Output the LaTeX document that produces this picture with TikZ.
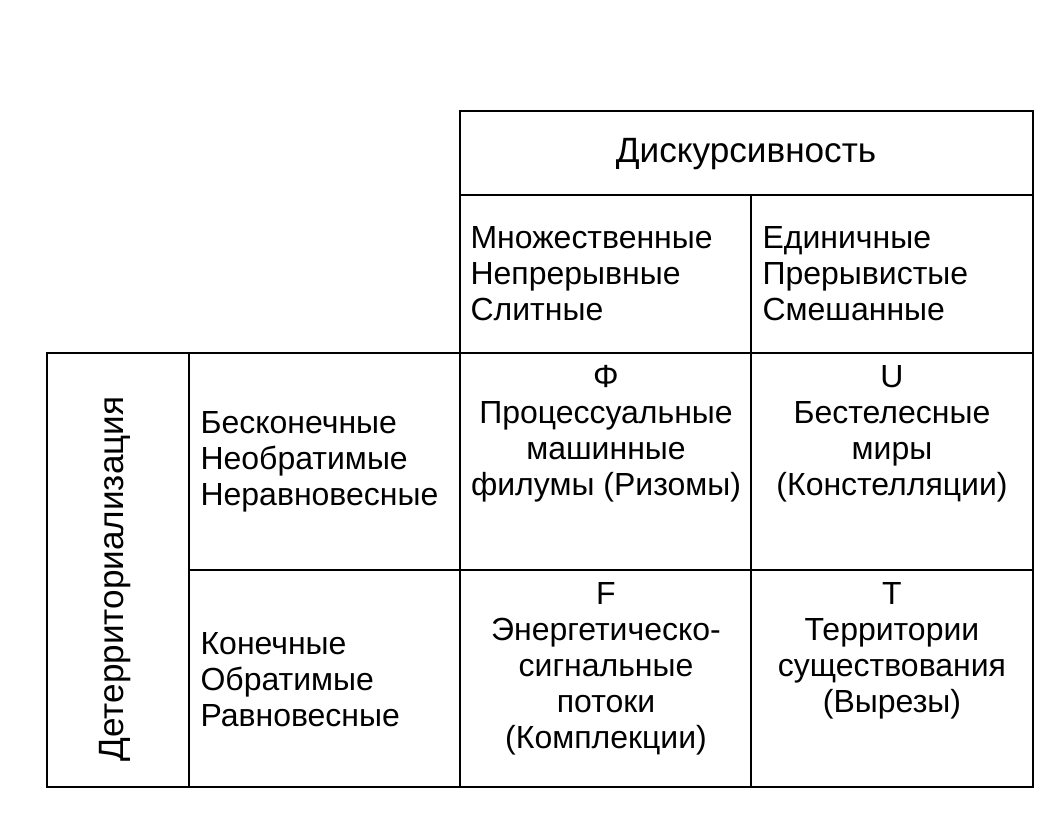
\documentclass[tikz,border=0pt]{standalone}
\usepackage{fontspec}
\setmainfont{Liberation Sans}
\tikzset{
  cell/.style={inner sep=0pt,font=\fontsize{27.3}{30.7}\selectfont},
  bigcell/.style={inner sep=0pt,font=\fontsize{30}{36}\selectfont},
  lcell/.style={cell,align=left,anchor=west},
  ccell/.style={cell,align=center,anchor=north},
}
\begin{document}
\begin{tikzpicture}[x=0.03cm,y=-0.03cm,line width=1pt]
\useasboundingbox (0,0) rectangle (1056,816);
% table rules
\draw (460,111) rectangle (1033,787);
\draw (460,195) -- (1033,195);
\draw (751,195) -- (751,787);
\draw (47,353) rectangle (460,787);
\draw (47,353) -- (1033,353);
\draw (189,353) -- (189,787);
\draw (189,570) -- (1033,570);
% headers
\node[bigcell] (disc) at (746,154) {Дискурсивность};
\node[lcell] (mult) at (470,274) {Множественные\\Непрерывные\\Слитные};
\node[lcell] (sing) at (762,274) {Единичные\\Прерывистые\\Смешанные};
\node[bigcell,rotate=90] (deter) at (115,579) {Детерриториализация};
\node[lcell] (inf) at (200,462) {Бесконечные\\Необратимые\\Неравновесные};
\node[lcell] (fin) at (200,680) {Конечные\\Обратимые\\Равновесные};
% cells
\node[ccell] (phi) at (606,365) {Φ\\Процессуальные\\машинные\\филумы (Ризомы)};
\node[ccell] (u) at (892,365) {U\\Бестелесные\\миры\\(Констелляции)};
\node[ccell] (f) at (606,582) {F\\Энергетическо-\\сигнальные\\потоки\\(Комплекции)};
\node[ccell] (t) at (892,582) {T\\Территории\\существования\\(Вырезы)};
\end{tikzpicture}
\end{document}
